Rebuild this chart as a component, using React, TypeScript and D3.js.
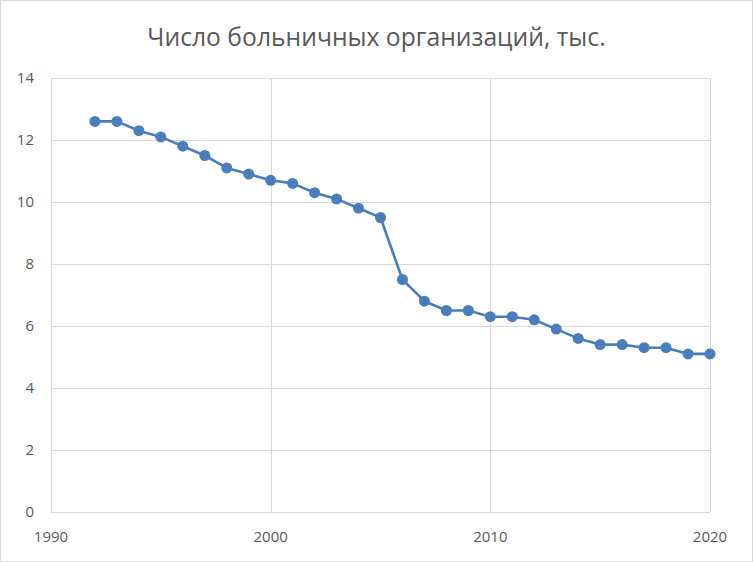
import React, { useRef, useEffect } from "react";
import * as d3 from "d3";

const years: number[] = [
  1992, 1993, 1994, 1995, 1996, 1997, 1998, 1999, 2000, 2001, 2002, 2003, 2004,
  2005, 2006, 2007, 2008, 2009, 2010, 2011, 2012, 2013, 2014, 2015, 2016, 2017,
  2018, 2019, 2020,
];
const hospitals: number[] = [
  12.6, 12.6, 12.3, 12.1, 11.8, 11.5, 11.1, 10.9, 10.7, 10.6, 10.3, 10.1, 9.8,
  9.5, 7.5, 6.8, 6.5, 6.5, 6.3, 6.3, 6.2, 5.9, 5.6, 5.4, 5.4, 5.3, 5.3, 5.1, 5.1,
];
const xTicks: number[] = [1990, 2000, 2010, 2020];
const yTicks: number[] = [0, 2, 4, 6, 8, 10, 12, 14];
const title = "Число больничных организаций, тыс.";

const W = 753;
const H = 562;
const margin = { top: 78, right: 43, bottom: 50, left: 51 };
const color = "#4a7ebb";
const font = "'Open Sans', 'DejaVu Sans', sans-serif";

const App: React.FC = () => {
  const svgRef = useRef<SVGSVGElement>(null);

  useEffect(() => {
    if (!svgRef.current) return;
    const svg = d3.select(svgRef.current);
    svg.selectAll("*").remove();

    const x = d3
      .scaleLinear()
      .domain([1990, 2020])
      .range([margin.left, W - margin.right]);
    const y = d3
      .scaleLinear()
      .domain([0, 14])
      .range([H - margin.bottom, margin.top]);

    svg
      .append("rect")
      .attr("x", 0.5)
      .attr("y", 0.5)
      .attr("width", W - 1)
      .attr("height", H - 1)
      .attr("fill", "#fff")
      .attr("stroke", "#d9d9d9");

    // Grid
    svg
      .append("g")
      .selectAll("line")
      .data(yTicks)
      .join("line")
      .attr("x1", margin.left)
      .attr("x2", W - margin.right)
      .attr("y1", (d) => Math.round(y(d)) + 0.5)
      .attr("y2", (d) => Math.round(y(d)) + 0.5)
      .attr("stroke", "#d9d9d9");

    svg
      .append("g")
      .selectAll("line")
      .data(xTicks)
      .join("line")
      .attr("x1", (d) => Math.round(x(d)) + 0.5)
      .attr("x2", (d) => Math.round(x(d)) + 0.5)
      .attr("y1", margin.top)
      .attr("y2", H - margin.bottom)
      .attr("stroke", "#d9d9d9");

    // Y labels
    svg
      .append("g")
      .selectAll("text")
      .data(yTicks)
      .join("text")
      .attr("x", 34)
      .attr("y", (d) => y(d))
      .attr("dy", "0.35em")
      .attr("text-anchor", "end")
      .attr("fill", "#595959")
      .style("font", `15px ${font}`)
      .text((d) => d);

    // X labels
    svg
      .append("g")
      .selectAll("text")
      .data(xTicks)
      .join("text")
      .attr("x", (d) => x(d))
      .attr("y", H - margin.bottom + 25)
      .attr("dy", "0.35em")
      .attr("text-anchor", "middle")
      .attr("fill", "#595959")
      .style("font", `15px ${font}`)
      .text((d) => d);

    // Title
    svg
      .append("text")
      .attr("x", W / 2)
      .attr("y", 37)
      .attr("dy", "0.35em")
      .attr("text-anchor", "middle")
      .attr("fill", "#595959")
      .style("font", `24.7px ${font}`)
      .text(title);

    const pts = years.map((yr, i) => [yr, hospitals[i]] as [number, number]);

    const line = d3
      .line<[number, number]>()
      .x((d) => x(d[0]))
      .y((d) => y(d[1]));

    svg
      .append("path")
      .datum(pts)
      .attr("fill", "none")
      .attr("stroke", color)
      .attr("stroke-width", 2.6)
      .attr("stroke-linejoin", "round")
      .attr("d", line);

    svg
      .append("g")
      .selectAll("circle")
      .data(pts)
      .join("circle")
      .attr("cx", (d) => x(d[0]))
      .attr("cy", (d) => y(d[1]))
      .attr("r", 5.5)
      .attr("fill", color);
  }, []);

  return (
    <svg
      ref={svgRef}
      width={W}
      height={H}
      style={{ position: "absolute", left: 0, top: 0 }}
    />
  );
};

export default App;
